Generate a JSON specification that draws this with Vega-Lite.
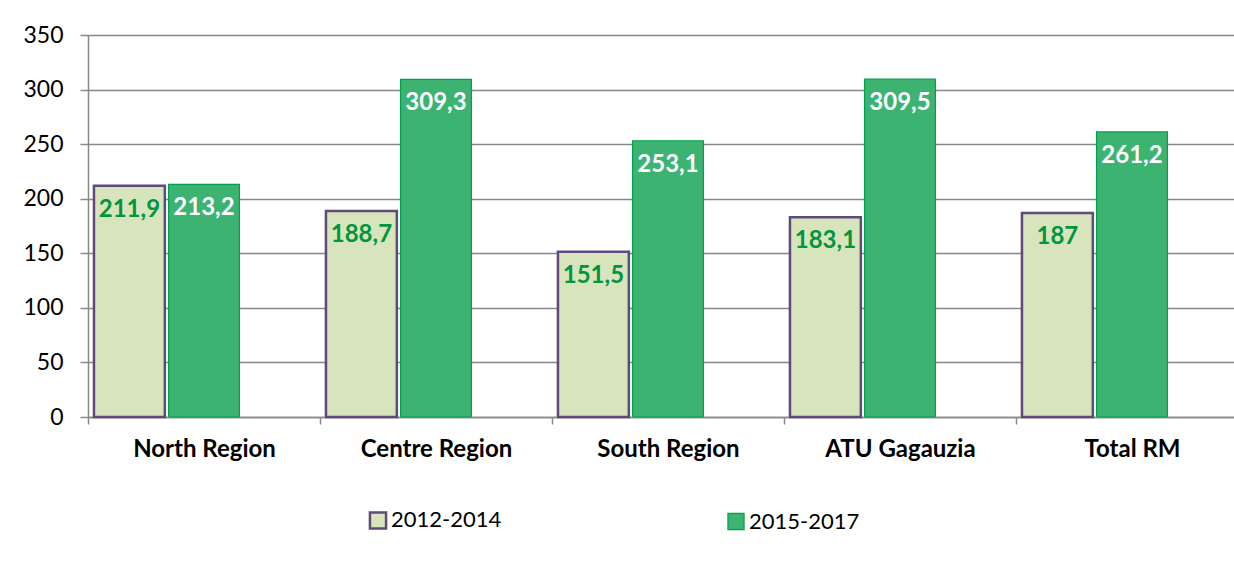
{
  "$schema": "https://vega.github.io/schema/vega-lite/v6.json",
  "width": 1160,
  "height": 382,
  "autosize": "none",
  "padding": {"left": 88, "top": 35, "right": 0, "bottom": 148},
  "background": "white",
  "config": {
    "view": {"stroke": null},
    "font": "Lato",
    "locale": {"number": {"decimal": ",", "thousands": ".", "grouping": [3], "currency": ["", ""]}}
  },
  "data": {
    "values": [
      {"region": "North Region", "period": "2012-2014", "value": 211.9},
      {"region": "North Region", "period": "2015-2017", "value": 213.2},
      {"region": "Centre Region", "period": "2012-2014", "value": 188.7},
      {"region": "Centre Region", "period": "2015-2017", "value": 309.3},
      {"region": "South Region", "period": "2012-2014", "value": 151.5},
      {"region": "South Region", "period": "2015-2017", "value": 253.1},
      {"region": "ATU Gagauzia", "period": "2012-2014", "value": 183.1},
      {"region": "ATU Gagauzia", "period": "2015-2017", "value": 309.5},
      {"region": "Total RM", "period": "2012-2014", "value": 187},
      {"region": "Total RM", "period": "2015-2017", "value": 261.2}
    ]
  },
  "encoding": {
    "x": {
      "field": "region", "type": "nominal", "sort": null,
      "scale": {"paddingInner": 0, "paddingOuter": 0},
      "axis": {
        "title": null, "labelAngle": 0, "labelFontWeight": "bold", "labelFontSize": 24,
        "labelColor": "black", "labelPadding": 13, "tickBand": "extent", "tickSize": 7,
        "tickColor": "#888888", "tickWidth": 1.5, "domainColor": "#888888", "domainWidth": 1.5, "grid": false
      }
    },
    "xOffset": {
      "field": "period", "type": "nominal",
      "scale": {"domain": ["2012-2014", "2015-2017", "blank"], "paddingInner": 0.05, "paddingOuter": 0.08}
    },
    "y": {
      "field": "value", "type": "quantitative",
      "scale": {"domain": [0, 350], "nice": false},
      "axis": {
        "title": null, "values": [0, 50, 100, 150, 200, 250, 300, 350],
        "labelFontSize": 23, "labelColor": "black", "labelPadding": 17, "tickSize": 8,
        "tickColor": "#888888", "tickWidth": 1.5, "gridColor": "#888888", "gridWidth": 1.5,
        "domainColor": "#888888", "domainWidth": 1.5
      }
    }
  },
  "layer": [
    {
      "mark": {"type": "bar"},
      "encoding": {
        "fill": {
          "field": "period", "type": "nominal",
          "scale": {"domain": ["2012-2014", "2015-2017"], "range": ["#D8E4BC", "#3CB371"]},
          "legend": {
            "title": null, "orient": "none", "legendX": 279, "legendY": 474, "direction": "horizontal",
            "symbolType": "square", "symbolSize": 260, "labelFontSize": 22, "labelColor": "black",
            "columnPadding": 223, "symbolStrokeWidth": 2.5, "labelOffset": 2, "padding": 0
          }
        },
        "stroke": {
          "field": "period", "type": "nominal",
          "scale": {"domain": ["2012-2014", "2015-2017"], "range": ["#604A7B", "#00A050"]}
        },
        "strokeWidth": {
          "field": "period", "type": "nominal",
          "scale": {"domain": ["2012-2014", "2015-2017"], "range": [2.5, 1.2]},
          "legend": null
        }
      }
    },
    {
      "mark": {"type": "text", "baseline": "middle", "dy": 24, "fontWeight": "bold", "fontSize": 24},
      "encoding": {
        "text": {"field": "value", "type": "quantitative", "format": ".1~f"},
        "color": {
          "field": "period", "type": "nominal",
          "scale": {"domain": ["2012-2014", "2015-2017"], "range": ["#00953F", "#FFFFFF"]},
          "legend": null
        }
      }
    }
  ]
}
